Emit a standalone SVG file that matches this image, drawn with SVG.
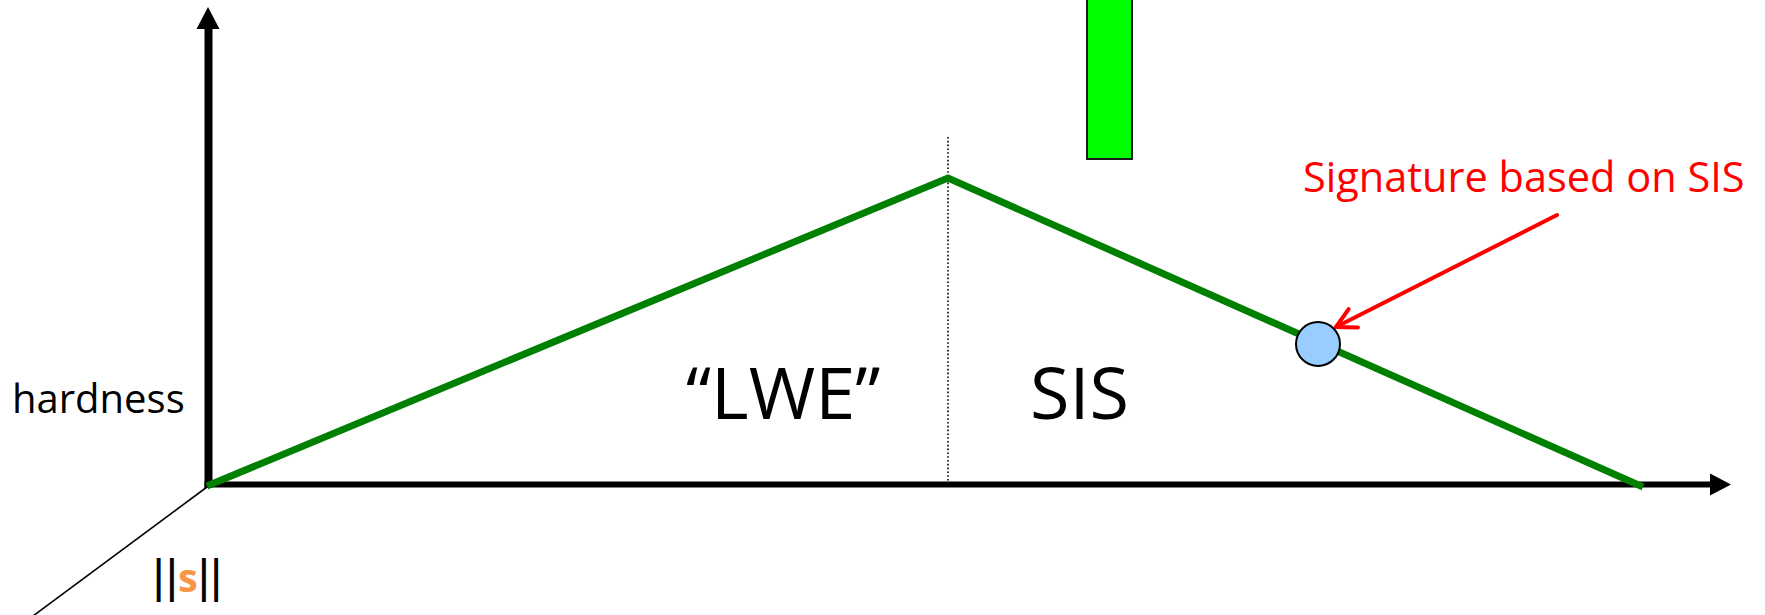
<svg xmlns="http://www.w3.org/2000/svg" width="1765" height="615" viewBox="0 0 1765 615">
  <style>
    .lbl { font-family: "Open Sans", "Noto Sans", "Liberation Sans", sans-serif; fill: #000; }
    .axis { stroke: #000; fill: none; }
    .curve { stroke: #008000; stroke-width: 7; fill: none; stroke-linejoin: miter; }
  </style>
  <defs>
    <marker id="redHead" markerUnits="userSpaceOnUse" viewBox="-24 -14 28 28" markerWidth="28" markerHeight="28" refX="0" refY="0" orient="auto" overflow="visible">
      <path d="M -19.4 -10.3 L 0 0 L -19.4 10.3" fill="none" stroke="#FF0000" stroke-width="4" stroke-linecap="round" stroke-linejoin="round"/>
    </marker>
  </defs>
  <rect width="1765" height="615" fill="#FFFFFF"/>

  <g id="bar">
    <rect x="1087" y="-5" width="45" height="164" fill="#00FF00" stroke="#1a1a1a" stroke-width="2"/>
  </g>

  <g id="axes">
    <line class="axis" x1="207" y1="487" x2="33" y2="616" stroke-width="1.6"/>
    <line class="axis" x1="208.5" y1="488" x2="208.5" y2="26" stroke-width="8"/>
    <polygon points="208,7 196.5,29 219.5,29" fill="#000"/>
    <line class="axis" x1="204.5" y1="484.5" x2="1712" y2="484.5" stroke-width="6"/>
    <polygon points="1731,484.5 1710,473.5 1710,495.5" fill="#000"/>
    <line class="axis" x1="948" y1="137" x2="948" y2="485" stroke-width="1.6" stroke-dasharray="1.6 2.2"/>
  </g>

  <g id="connectors">
    <polyline class="curve" points="207,486 948,178 1643,487"/>
    <line x1="1557" y1="215" x2="1336" y2="327" stroke="#FF0000" stroke-width="4" stroke-linecap="round" marker-end="url(#redHead)"/>
  </g>

  <g id="point">
    <circle cx="1318" cy="344" r="22" fill="#99CCFF" stroke="#000" stroke-width="2"/>
  </g>

  <g id="labels">
    <text id="hardness" class="lbl" x="12" y="413" font-size="40">hardness</text>
    <text id="lwe" class="lbl" x="686" y="419" font-size="72">“LWE”</text>
    <text id="sis" class="lbl" x="1030" y="419" font-size="72">SIS</text>
    <text id="sig" class="lbl" x="1303" y="192" font-size="41.5" style="fill:#FF0000">Signature based on SIS</text>
    <text id="norm" x="152.5" y="592" font-size="47" dx="0 1 0 0 0" style="font-family:'Liberation Sans', Arial, sans-serif; fill:#000">||<tspan font-size="40" font-weight="bold" style="font-family:'Open Sans', 'Noto Sans', sans-serif; fill:#F79646">s</tspan>||</text>
  </g>
</svg>
